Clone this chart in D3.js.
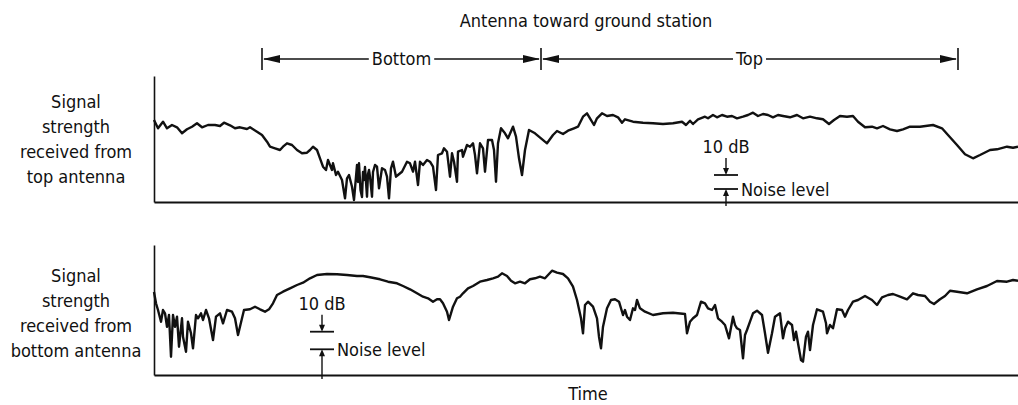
<!DOCTYPE html>
<html>
<head>
<meta charset="utf-8">
<script src="https://cdn.jsdelivr.net/npm/d3@7"></script>
<style>
  html, body { margin: 0; padding: 0; background: #fff; }
  svg text { font-family: "DejaVu Sans Condensed", "DejaVu Sans", sans-serif; font-stretch: condensed; fill: #111; }
</style>
</head>
<body>
<div id="chart"></div>
<script>
// ── DATA (time index, signal level above panel baseline) ─────────────────
const topAntenna = [
  [0,82],[4,73.7],[9,80.3],[13,73.7],[18,77],[23,74.7],[28,68.7],[33,72.7],[38,75.3],[43,78.7],
  [48,74.7],[54,77],[61,77],[66,76],[70,79.3],[76,76.7],[81,73.7],[86,74.7],[93,73],[96,74.7],
  [103,70.3],[108,67],[113,60.3],[116,55.3],[121,53.7],[126,52],[129,55.3],[133,58.7],[138,57],
  [143,52],[148,48.7],[153,49.3],[156,52],[159,55.3],[163,52],[166,43.7],[169,35.3],[172,32],
  [174,42],[178,32],[179,38.7],[182,27],[184,30.3],[188,22],[191,3.7],[193,23.7],[195,27],
  [198,15.3],[200,2],[203,37],[204,20],[205,38.7],[206.5,12],[208,5],[209,30],[210,22],[211,35],
  [213,5.3],[214,28],[215,32],[216,25.3],[218,5.3],[219,30],[221,37],[223,35.3],[225,13.7],
  [228,33.7],[231,32],[233,25.3],[235,3.7],[237,33.7],[239,40.3],[242,25.3],[244,27],[248,30.3],
  [253,40.3],[256,38.7],[259,30.3],[261,40.3],[264,17],[266,40.3],[269,37],[273,42],[276,40.3],
  [279,35.3],[282,12],[284,47],[288,48.7],[290,53.7],[293,50.3],[296,25.3],[298,48.7],[300,40.3],
  [303,20.3],[304,50.3],[308,52],[309,45.3],[313,57],[316,55.3],[319,58.7],[321,47],[323,28.7],
  [326,58.7],[329,53.7],[331,30.3],[334,62],[338,62],[340,52],[342,20.3],[344,58.7],[347,73.7],
  [351,68.7],[354,63.7],[359,75.3],[362,65.3],[365,43.7],[368,27],[371,52],[375,72],[381,68.7],
  [387,63.7],[393,58.7],[399,67],[403,71],[409,68],[414,71.3],[420,73.7],[424,75.3],[429,85.3],
  [433,88.7],[436,83.7],[440,77],[443,83.7],[448,88.7],[453,86],[459,87],[464,84.7],[468,79.3],
  [471,82.7],[479,80.3],[489,79.3],[499,78.7],[509,78],[519,78.7],[528,80.3],[532,77],[536,81.3],
  [539,78],[544,82.7],[551,85.3],[554,83.7],[559,87],[563,84.7],[568,87],[573,85.3],[578,86],
  [583,83.7],[589,85.3],[594,87],[599,89.3],[604,86],[609,88],[614,87],[619,84.7],[624,87],
  [629,86],[636,84.7],[643,87],[649,83.7],[656,85.3],[663,83.7],[669,82.7],[675,78],[680,82],
  [686,86],[693,85.3],[699,86],[704,80.3],[711,74.7],[718,75.3],[723,73.7],[729,76],[736,72.7],
  [743,71],[749,72.7],[756,75.3],[766,75.3],[779,77],[788,73.7],[794,67],[803,57],[811,47.7],
  [819,43.7],[826,47],[836,52],[843,52.7],[853,55.3],[859,54.3],[864,55.3]
];

const bottomAntenna = [
  [0,83],[2,71.7],[4,65],[7,53.3],[9,65],[11,61.7],[13,48.3],[15,60],[17,18.3],[19,60],[21,48.3],
  [23,58.3],[25,28.3],[28,56.7],[29,38.3],[32,23.3],[34,53.3],[37,41.7],[39,26.7],[42,60],
  [44,56.7],[47,61.7],[49,55],[52,65],[55,56.7],[59,35],[62,58.3],[66,61.7],[69,51.7],[73,65],
  [78,63.3],[81,56.7],[84,40],[88,56.7],[90,65],[96,65.7],[101,68.3],[106,65.7],[111,63.3],
  [115,65.7],[119,71.7],[123,80],[129,83.3],[136,86.7],[143,90],[149,92.3],[156,96.7],[163,100],
  [173,101],[183,100.7],[193,100],[203,99],[209,99],[216,97.7],[226,95.7],[234,93.3],[243,91.7],
  [249,89],[256,85.7],[263,81.7],[269,78.3],[274,76.7],[279,73.3],[283,75.7],[286,75.7],
  [289,71.7],[293,63.3],[295,55],[299,68.3],[303,76.7],[306,78.3],[309,81.7],[314,86.7],[319,89],
  [326,93.3],[333,95],[339,96.7],[344,98.3],[348,101.7],[353,99],[357,94.3],[361,91.7],[366,93.3],
  [371,91.7],[376,95.7],[381,96.7],[386,98.3],[391,96.7],[398,104.3],[403,102.3],[409,101],
  [414,96.7],[419,88.3],[423,75],[427,56.7],[429,41.7],[431,70],[434,73.3],[439,68.3],[443,56.7],
  [445,38.3],[447,26.7],[449,48.3],[453,66.7],[457,75],[461,75.7],[465,73.3],[469,60],[471,65],
  [473,58.3],[476,55],[479,66.7],[481,65],[483,75],[486,66.7],[491,63.3],[499,60],[509,61.7],
  [519,62.3],[531,61],[533,41.7],[536,53.3],[539,56.7],[543,60],[547,73.3],[551,71.7],[554,66.7],
  [558,65],[561,70],[564,56.7],[568,53.3],[571,50],[575,36.7],[579,58.3],[581,50],[583,46.7],
  [586,45],[589,16.7],[591,40],[593,45],[596,53.3],[599,61.7],[603,64.3],[608,60],[611,41.7],
  [614,22.3],[618,41.7],[621,58.3],[626,61.7],[629,36.7],[631,46.7],[634,53.3],[638,50],[640,35],
  [642,43.3],[644,31.7],[647,15],[649,13.3],[652,38.3],[654,43.3],[656,25],[659,50],[663,65.7],
  [669,63.3],[672,51.7],[673,41.7],[676,50],[679,46.7],[683,65.7],[688,65],[691,58.3],[694,65],
  [699,73.3],[704,75],[711,79],[718,75],[723,70],[728,77.7],[734,80],[739,81],[746,78.3],
  [753,75.7],[759,81.7],[764,80],[771,79],[776,73.3],[780,71],[786,75.7],[791,79],[796,84.3],
  [803,83.3],[813,81.7],[823,85.7],[833,89],[843,94],[853,93.3],[859,95],[864,94.3]
];

// antenna-toward-station phases (time boundaries)
const phaseBounds = [108, 387, 804];
const phaseNames = ['Bottom', 'Top'];

// 10 dB / noise-level markers: time position, noise level, +10 dB level
const topMarker = { t: 572, noise: 13, ref: 27 };
const bottomMarker = { t: 168, noise: 25.7, ref: 43.3 };

const topLabel = ['Signal', 'strength', 'received from', 'top antenna'];
const bottomLabel = ['Signal', 'strength', 'received from', 'bottom antenna'];

// ── LAYOUT ───────────────────────────────────────────────────────────────
const W = 1018, H = 405;
const svg = d3.select('#chart').append('svg').attr('width', W).attr('height', H);

const x = d3.scaleLinear().domain([0, 864]).range([154, 1018]);
const yTop = d3.scaleLinear().domain([0, 126]).range([202, 76]);
const yBot = d3.scaleLinear().domain([0, 130]).range([375, 245]);

const FS = 18;

function panel(data, y, label, labelBase, marker) {
  const g = svg.append('g');

  // axes: bare frame lines, no ticks
  g.append('g').attr('transform', `translate(0,${y(0)})`)
    .call(d3.axisBottom(x).tickValues([]).tickSizeOuter(0))
    .call(a => a.select('.domain').attr('stroke', '#111').attr('stroke-width', 2));
  g.append('g').attr('transform', `translate(${x(0)},0)`)
    .call(d3.axisLeft(y).tickValues([]).tickSizeOuter(0))
    .call(a => a.select('.domain').attr('stroke', '#111').attr('stroke-width', 1.6));

  const line = d3.line().x(d => x(d[0])).y(d => y(d[1]));
  g.append('path').datum(data).attr('d', line)
    .attr('fill', 'none').attr('stroke', '#111').attr('stroke-width', 2.4)
    .attr('stroke-linejoin', 'round');

  // left label
  label.forEach((s, i) => {
    g.append('text').attr('x', 76).attr('y', labelBase + i * 25)
      .attr('text-anchor', 'middle').attr('font-size', FS).text(s);
  });

  // 10 dB / noise marker
  const mx = x(marker.t), yr = y(marker.ref), yn = y(marker.noise);
  g.append('text').attr('x', mx).attr('y', yr - 22)
    .attr('text-anchor', 'middle').attr('font-size', FS).text('10 dB');
  g.append('line').attr('x1', mx - 12).attr('x2', mx + 12).attr('y1', yr).attr('y2', yr)
    .attr('stroke', '#111').attr('stroke-width', 1.8);
  g.append('line').attr('x1', mx - 12).attr('x2', mx + 12).attr('y1', yn).attr('y2', yn)
    .attr('stroke', '#111').attr('stroke-width', 1.8);
  g.append('line').attr('x1', mx).attr('x2', mx).attr('y1', yr - 17).attr('y2', yr - 6)
    .attr('stroke', '#111').attr('stroke-width', 1.4);
  g.append('path').attr('d', `M${mx - 3},${yr - 7}L${mx + 3},${yr - 7}L${mx},${yr}Z`).attr('fill', '#111');
  g.append('line').attr('x1', mx).attr('x2', mx).attr('y1', y(0) + 4).attr('y2', yn + 6)
    .attr('stroke', '#111').attr('stroke-width', 1.4);
  g.append('path').attr('d', `M${mx - 3},${yn + 7}L${mx + 3},${yn + 7}L${mx},${yn}Z`).attr('fill', '#111');
  g.append('text').attr('x', mx + 15).attr('y', yn + 7)
    .attr('font-size', FS).text('Noise level');
}

panel(topAntenna, yTop, topLabel, 108, topMarker);
panel(bottomAntenna, yBot, bottomLabel, 282, bottomMarker);

// ── PHASE BRACKET ────────────────────────────────────────────────────────
const by = 59;
svg.append('text').attr('x', 586).attr('y', 27).attr('text-anchor', 'middle')
  .attr('font-size', FS).text('Antenna toward ground station');

phaseBounds.forEach(b => {
  svg.append('line').attr('x1', x(b)).attr('x2', x(b)).attr('y1', by - 11).attr('y2', by + 11)
    .attr('stroke', '#111').attr('stroke-width', 1.6);
});

function arrowHead(tipX, dir) {
  // dir = -1 points left, +1 points right
  const L = 17, hw = 4;
  svg.append('path')
    .attr('d', `M${tipX},${by}L${tipX - dir * L},${by - hw}L${tipX - dir * L},${by + hw}Z`)
    .attr('fill', '#111');
}

phaseNames.forEach((name, i) => {
  const x0 = x(phaseBounds[i]), x1 = x(phaseBounds[i + 1]);
  const cx = (x0 + x1) / 2;
  const t = svg.append('text').attr('x', cx).attr('y', by + 6).attr('text-anchor', 'middle')
    .attr('font-size', FS).text(name);
  const hw = t.node().getComputedTextLength() / 2 + 3;
  svg.append('line').attr('x1', x0 + 2).attr('x2', cx - hw).attr('y1', by).attr('y2', by)
    .attr('stroke', '#111').attr('stroke-width', 1.6);
  svg.append('line').attr('x1', cx + hw).attr('x2', x1 - 2).attr('y1', by).attr('y2', by)
    .attr('stroke', '#111').attr('stroke-width', 1.6);
  arrowHead(x0 + 1, -1);
  arrowHead(x1 - 1, 1);
});

// ── TIME LABEL ───────────────────────────────────────────────────────────
svg.append('text').attr('x', 588).attr('y', 400).attr('text-anchor', 'middle')
  .attr('font-size', FS).text('Time');
</script>
</body>
</html>
